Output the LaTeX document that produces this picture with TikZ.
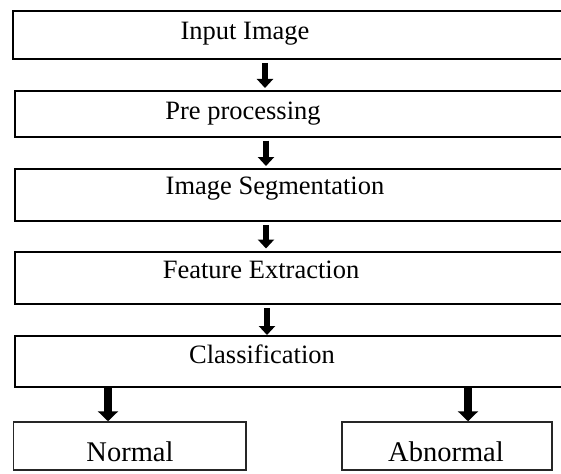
\documentclass[tikz,border=0pt]{standalone}
\usepackage{fontspec}
\setmainfont{Liberation Serif}
\usetikzlibrary{arrows.meta}
\tikzset{
  boxst/.style={draw=black, line width=2pt, rectangle, inner sep=0pt},
  leafbox/.style={draw=black!85, line width=1.5pt, rectangle, inner sep=0pt},
  txt/.style={inner sep=0pt, anchor=base, font=\fontsize{26.5}{30}\selectfont},
  leaftxt/.style={inner sep=0pt, anchor=base, font=\fontsize{28.5}{32}\selectfont},
  blockarrow/.style={line width=6.5pt, -{Triangle[width=16pt,length=9pt]}, shorten <=3pt, shorten >=2pt},
  bigarrow/.style={line width=8pt, -{Triangle[width=20pt,length=10pt]}}
}
\begin{document}
\begin{tikzpicture}[x=1pt,y=-1pt]
\useasboundingbox (0,0) rectangle (561,473);
% boxes
\node[boxst, minimum width=553pt, minimum height=48.3pt] (b1) at (289.5,34.85) {};
\node[boxst, minimum width=551.5pt, minimum height=45.7pt] (b2) at (290.25,113.85) {};
\node[boxst, minimum width=551.5pt, minimum height=52pt] (b3) at (290.25,195) {};
\node[boxst, minimum width=551.5pt, minimum height=52.5pt] (b4) at (290.25,277.75) {};
\node[boxst, minimum width=551.5pt, minimum height=51pt] (b5) at (290.25,361.5) {};
\node[leafbox, minimum width=232.5pt, minimum height=48pt] (n) at (129.75,446) {};
\node[leafbox, minimum width=210pt, minimum height=48pt] (a) at (447,446) {};
% texts
\node[txt] (t1) at (245,40) {Input Image};
\node[txt] (t2) at (243,120) {Pre processing};
\node[txt] (t3) at (275,194) {Image Segmentation};
\node[txt] (t4) at (261,278) {Feature Extraction};
\node[txt] (t5) at (262,363) {Classification};
\node[leaftxt] (tn) at (130,461.5) {Normal};
\node[leaftxt] (ta) at (446,461.5) {Abnormal};
% arrow x positions
\coordinate (x1) at (265,0);
\coordinate (x2) at (266,0);
\coordinate (x3) at (266,0);
\coordinate (x4) at (267,0);
\coordinate (xn) at (108,0);
\coordinate (xa) at (468,0);
% arrows
\draw[blockarrow] (b1.south -| x1) -- (b2.north -| x1);
\draw[blockarrow] (b2.south -| x2) -- (b3.north -| x2);
\draw[blockarrow] (b3.south -| x3) -- (b4.north -| x3);
\draw[blockarrow, shorten >=0pt] (b4.south -| x4) -- (b5.north -| x4);
\draw[bigarrow] (b5.south -| xn) -- (n.north -| xn);
\draw[bigarrow] (b5.south -| xa) -- (a.north -| xa);
\end{tikzpicture}
\end{document}
